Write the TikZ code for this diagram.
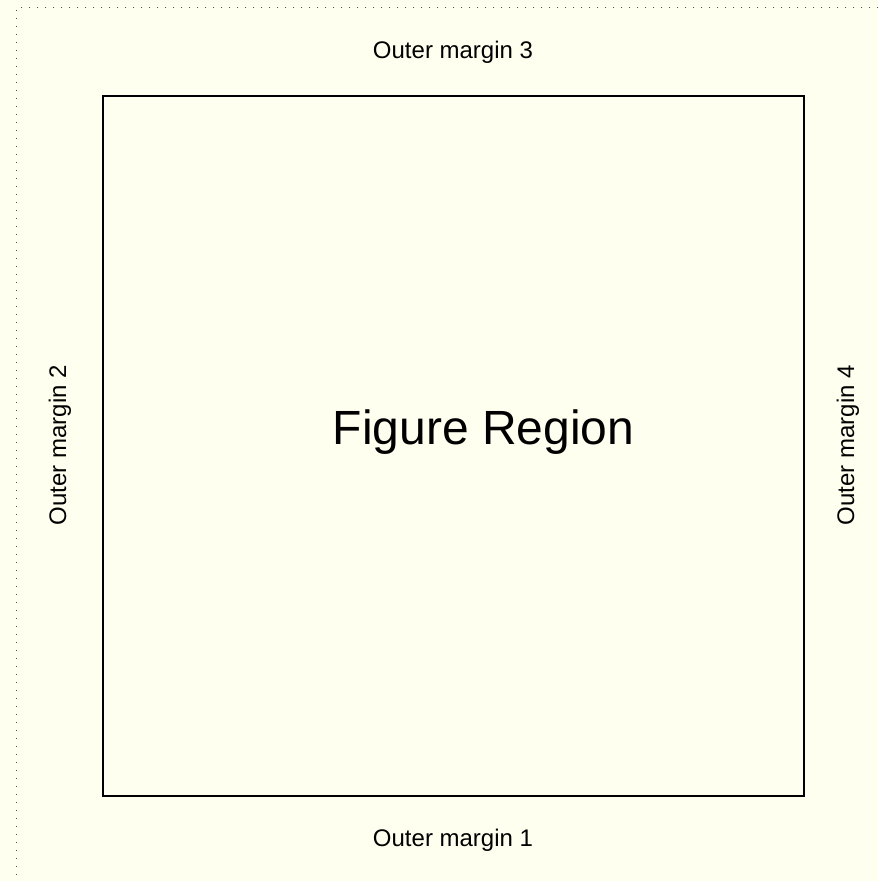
\documentclass[tikz,border=0pt]{standalone}
\usepackage{fontspec}
\setmainfont{Liberation Sans}
\usetikzlibrary{positioning}
\definecolor{avorio}{HTML}{FFFFF0}

\begin{document}
\begin{tikzpicture}[x=0.75pt, y=-0.75pt,
			margine/.style={font=\fontsize{18}{20}\selectfont, inner sep=0pt},
			regione/.style={font=\fontsize{36}{40}\selectfont, inner sep=0pt},
			bordo/.style={dash pattern=on 0.75pt off 5.25pt, line width=0.75pt, black!70}]
			
			% Sfondo e dimensioni della pagina
			\fill[avorio] (0,0) rectangle (878,881);
			\useasboundingbox (0,0) rectangle (878,881);
			
			% Bordo tratteggiato del dispositivo
			\draw[bordo] (878,8) -- (16,8) -- (16,881);
			
			% Regione della figura
			\coordinate (a) at (103,96);
			\coordinate (b) at (804,796);
			\draw[line width=1pt] (a) rectangle (b);
			\node[regione] (fig) at (483.5,432) {Figure Region};
			
			% --- Margini esterni ---
			\node[margine] (m3) at (453,52) {Outer margin 3};
			\node[margine] (m1) at (453,840) {Outer margin 1};
			\node[margine, rotate=90] (m2) at (60,445) {Outer margin 2};
			\node[margine, rotate=90] (m4) at (848,445) {Outer margin 4};
			
		\end{tikzpicture}
\end{document}
